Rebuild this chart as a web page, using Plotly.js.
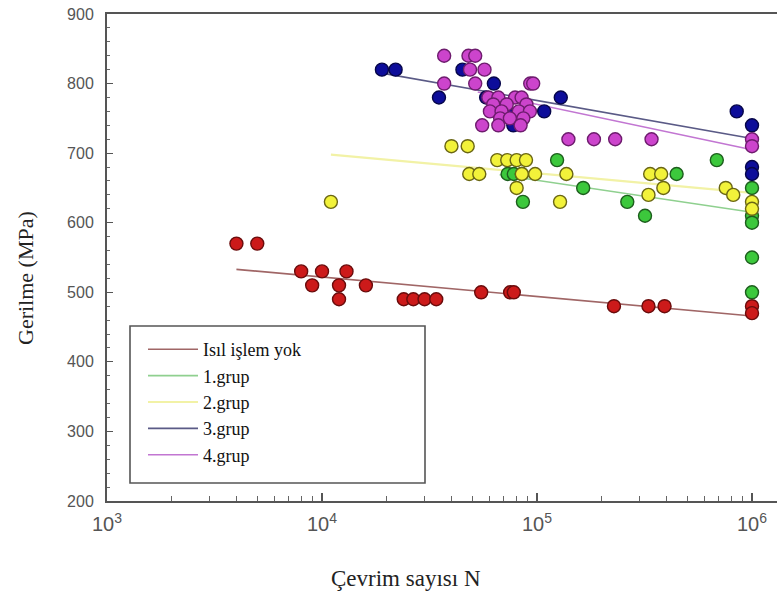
<!DOCTYPE html>
<html>
<head>
<meta charset="utf-8">
<script src="https://cdn.plot.ly/plotly-3.0.1.min.js"></script>
<style>html,body{margin:0;padding:0;background:#fff;}#chart{width:777px;height:593px;}</style>
</head>
<body>
<div id="chart"></div>
<script>
// Series names
const seriesNames = ["Isıl işlem yok", "1.grup", "2.grup", "3.grup", "4.grup"];

// Isıl işlem yok (red)
const redN = [4000, 5000, 8000, 10000, 13000, 9000, 12000, 16000, 12000, 24000, 26600, 30000, 34000, 55000, 75000, 78000, 228000, 330000, 392000, 1000000, 1000000];
const redS = [570, 570, 530, 530, 530, 510, 510, 510, 490, 490, 490, 490, 490, 500, 500, 500, 480, 480, 480, 480, 470];

// 1.grup (green)
const greenN = [73000, 78000, 85000, 86000, 124000, 164000, 263000, 318000, 446000, 686000, 1000000, 1000000, 1000000, 1000000, 1000000];
const greenS = [670, 670, 670, 630, 690, 650, 630, 610, 670, 690, 650, 610, 600, 550, 500];

// 2.grup (yellow)
const yellowN = [11000, 40000, 47600, 48400, 53900, 65300, 72700, 80400, 88900, 80400, 85000, 98000, 128000, 137000, 330000, 336000, 378000, 387000, 755000, 818000, 1000000, 1000000];
const yellowS = [630, 710, 710, 670, 670, 690, 690, 690, 690, 650, 670, 670, 630, 670, 640, 670, 670, 650, 650, 640, 630, 620];

// 3.grup (blue)
const blueN = [19000, 22000, 35000, 45000, 58000, 63000, 72000, 77600, 108000, 129000, 849000, 1000000, 1000000, 1000000];
const blueS = [820, 820, 780, 820, 780, 800, 760, 740, 760, 780, 760, 740, 680, 670];

// 4.grup (magenta)
const magentaN = [37000, 48000, 51600, 48800, 57000, 37000, 51600, 93000, 96000, 59400, 66100, 79100, 84800, 62600, 72300, 89300, 60400, 68400, 82300, 92700, 67400, 74800, 86400, 55600, 66100, 83900, 140000, 184000, 231000, 341000, 1000000, 1000000];
const magentaS = [840, 840, 840, 820, 820, 800, 800, 800, 800, 780, 780, 780, 780, 770, 770, 770, 760, 760, 760, 760, 750, 750, 750, 740, 740, 740, 720, 720, 720, 720, 720, 710];

// Fit lines (end points)
const redFitN = [4000, 1000000];     const redFitS = [533, 466];
const greenFitN = [67000, 1000000];  const greenFitS = [669, 615];
const yellowFitN = [11000, 1000000]; const yellowFitS = [698, 643];
const blueFitN = [19000, 1000000];   const blueFitS = [815, 721];
const magentaFitN = [53000, 1000000];const magentaFitS = [788, 705];

// Tick values
const yTicks = [200, 300, 400, 500, 600, 700, 800, 900];

const lineColors = ["#a06666", "#8fd08f", "#f2f2a6", "#5a5a86", "#c276d2"];
const fillColors = ["#cc1a1a", "#3cc83c", "#f2f23a", "#0d0d9a", "#cc44cc"];
const edgeColors = ["#6a0c0c", "#1d5e1d", "#6a6614", "#06064a", "#6e1c6e"];

const fits = [[redFitN, redFitS], [greenFitN, greenFitS], [yellowFitN, yellowFitS], [blueFitN, blueFitS], [magentaFitN, magentaFitS]];
const pts = [[redN, redS], [greenN, greenS], [yellowN, yellowS], [blueN, blueS], [magentaN, magentaS]];

const traces = [];
fits.forEach((f, i) => {
  traces.push({
    x: f[0], y: f[1], type: "scatter", mode: "lines", name: seriesNames[i],
    line: {color: lineColors[i], width: i === 2 ? 2.2 : 1.6},
    showlegend: true, hoverinfo: "skip"
  });
});
pts.forEach((p, i) => {
  traces.push({
    x: p[0], y: p[1], type: "scatter", mode: "markers", name: seriesNames[i],
    marker: {size: 13, color: fillColors[i], line: {color: edgeColors[i], width: 1.4}},
    showlegend: false
  });
});

const L = 107, R = 777, T = 14, B = 501;
const px = v => (v - L) / (R - L);
const py = v => (B - v) / (B - T);
const SERIF = "Liberation Serif";
const SANS = "Liberation Sans";

const layout = {
  width: 777, height: 593,
  margin: {l: 107, r: 0, t: 14, b: 92, pad: 0},
  paper_bgcolor: "#ffffff", plot_bgcolor: "#ffffff",
  showlegend: true,
  xaxis: {
    type: "log", range: [3, 3 + (R - L) / 215],
    dtick: 1, exponentformat: "power",
    showgrid: false, zeroline: false,
    showline: true, linecolor: "#555", linewidth: 2, mirror: true,
    ticks: "inside", ticklen: 8, tickwidth: 1.2, tickcolor: "#555",
    minor: {ticks: "inside", ticklen: 5, tickwidth: 1, tickcolor: "#666", dtick: "D1"},
    tickfont: {family: SANS, size: 16, color: "#555"},
    ticklabelstandoff: 5
  },
  yaxis: {
    range: [200, 900], tickvals: yTicks,
    showgrid: false, zeroline: false,
    showline: true, linecolor: "#555", linewidth: 2, mirror: false,
    ticks: "inside", ticklen: 6, tickwidth: 1.2, tickcolor: "#555",
    minor: {ticks: "inside", ticklen: 3, tickwidth: 1, tickcolor: "#666", dtick: 20},
    tickfont: {family: SANS, size: 16, color: "#555"},
    ticklabelstandoff: 8
  },
  legend: {
    x: px(143), y: py(331), xanchor: "left", yanchor: "top",
    bgcolor: "rgba(0,0,0,0)", borderwidth: 0,
    font: {family: SERIF, size: 18, color: "#111"},
    itemwidth: 50, tracegroupgap: 0
  },
  shapes: [{
    type: "rect", xref: "paper", yref: "paper",
    x0: px(130), x1: px(425), y0: py(483), y1: py(326),
    line: {color: "#555", width: 1.6}, fillcolor: "rgba(0,0,0,0)", layer: "below"
  }],
  annotations: [
    {text: "Çevrim sayısı N", xref: "paper", yref: "paper", x: px(406), y: py(578),
     xanchor: "center", yanchor: "middle", showarrow: false,
     font: {family: SERIF, size: 23, color: "#222"}},
    {text: "Gerilme (MPa)", xref: "paper", yref: "paper", x: px(25), y: py(278),
     xanchor: "center", yanchor: "middle", showarrow: false, textangle: -90,
     font: {family: SERIF, size: 22, color: "#222"}}
  ]
};

Plotly.newPlot("chart", traces, layout, {displayModeBar: false, staticPlot: true});
</script>
</body>
</html>
